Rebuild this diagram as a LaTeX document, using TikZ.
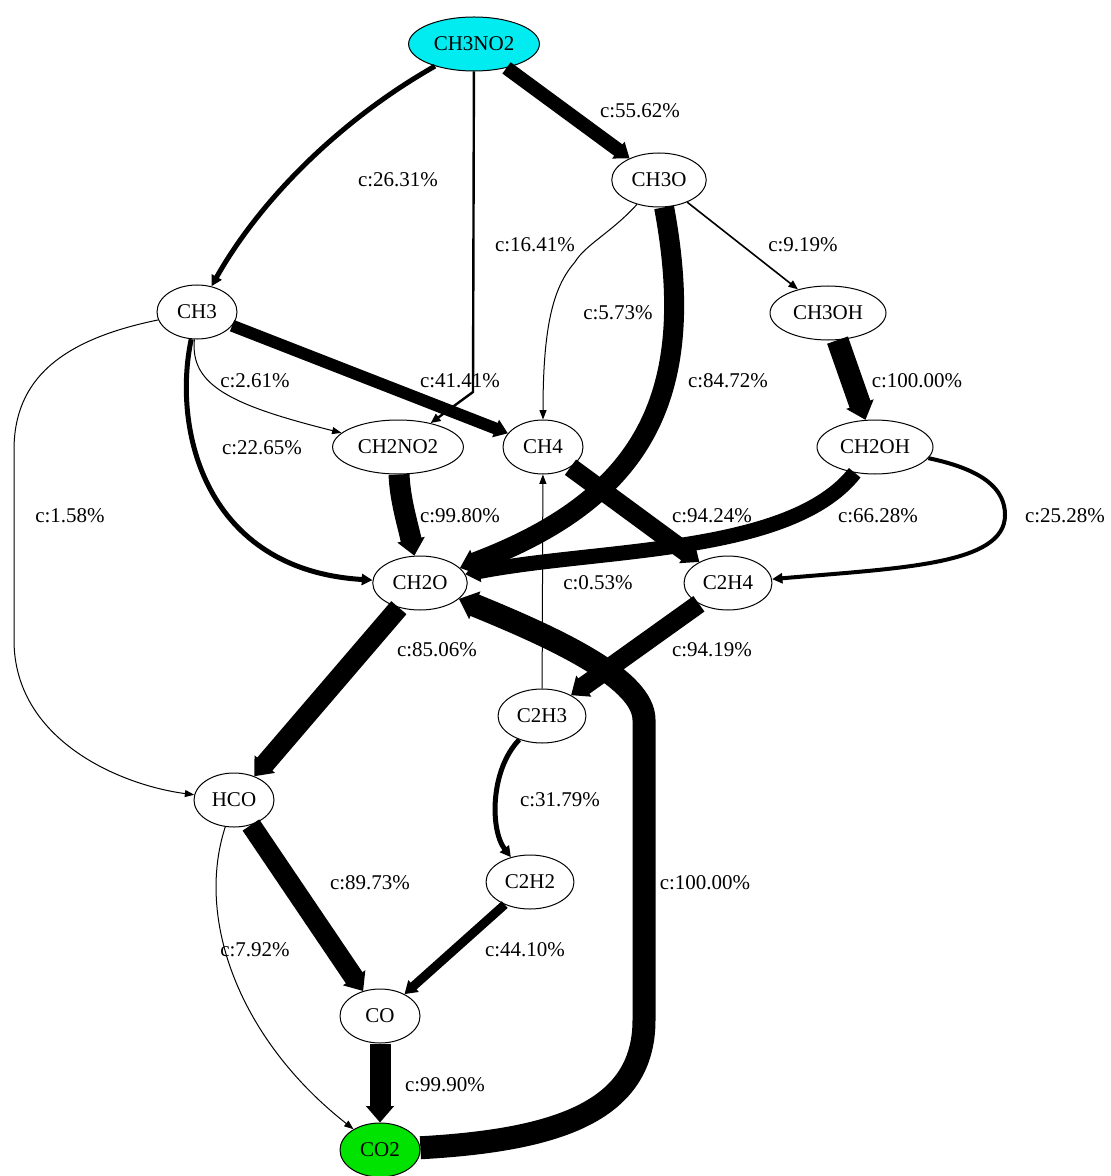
\documentclass[tikz,border=0pt]{standalone}
\usepackage{fontspec}
\setmainfont{Liberation Serif}
\usetikzlibrary{arrows.meta, shapes.geometric}

\definecolor{srccyan}{RGB}{0,236,240}
\definecolor{sinkgreen}{RGB}{0,226,0}

\begin{document}
\begin{tikzpicture}[x=0.5pt, y=-0.5pt,
            font=\fontsize{10.5}{12}\selectfont,
            species/.style={draw, ellipse, line width=0.5pt, fill=white,
                inner xsep=3pt, inner ysep=2pt, minimum width=40pt, minimum height=27pt},
            flow/.style={line width=#1, -{Triangle[length=4.5pt 0.35, width=3pt 1]}},
            lbl/.style={inner sep=0pt}]

            \useasboundingbox (0,0) rectangle (1110,1176);

            % Species
            \node[species, fill=srccyan] (CH3NO2) at (474,44) {CH3NO2};
            \node[species] (CH3O) at (659,180) {CH3O};
            \node[species] (CH3) at (197,312) {CH3};
            \node[species] (CH3OH) at (828,313) {CH3OH};
            \node[species] (CH2NO2) at (398,447) {CH2NO2};
            \node[species] (CH4) at (543,447) {CH4};
            \node[species] (CH2OH) at (875,447) {CH2OH};
            \node[species] (CH2O) at (420,583) {CH2O};
            \node[species] (C2H4) at (728,583) {C2H4};
            \node[species] (C2H3) at (542,716) {C2H3};
            \node[species] (HCO) at (234,800) {HCO};
            \node[species] (C2H2) at (530,882) {C2H2};
            \node[species] (CO) at (380,1016) {CO};
            \node[species, fill=sinkgreen] (CO2) at (380,1150) {CO2};

            % Reactions out of CH3NO2
            \draw[flow=2.5pt] (CH3NO2) .. controls (340,120) and (260,200) .. (CH3)
                node[lbl] at (398,180) {c:26.31\%};
            \draw[flow=1.2pt] (CH3NO2) -- (473,392) -- (CH2NO2)
                node[lbl] at (535,245) {c:16.41\%};
            \draw[flow=7pt] (CH3NO2) -- (CH3O)
                node[lbl] at (640,111) {c:55.62\%};

            % Reactions out of CH3O
            \draw[flow=0.5pt] (CH3O) .. controls (612,232) and (585,245) .. (575,262)
                .. controls (555,285) and (543,320) .. (CH4)
                node[lbl] at (618,313) {c:5.73\%};
            \draw[flow=10pt] (CH3O) .. controls (700,400) and (640,500) .. (CH2O)
                node[lbl] at (728,381) {c:84.72\%};
            \draw[flow=0.8pt] (CH3O) -- (CH3OH)
                node[lbl] at (803,245) {c:9.19\%};
            \draw[flow=11pt] (CH3OH) -- (CH2OH)
                node[lbl] at (917,381) {c:100.00\%};

            % Reactions out of CH3
            \draw[flow=6pt] (CH3) -- (CH4)
                node[lbl] at (460,381) {c:41.41\%};
            \draw[flow=0.5pt] (CH3) .. controls (190,385) and (230,405) .. (CH2NO2)
                node[lbl] at (255,381) {c:2.61\%};
            \draw[flow=2.5pt] (CH3) .. controls (172,430) and (205,570) .. (CH2O)
                node[lbl] at (262,448) {c:22.65\%};
            \draw[flow=0.5pt] (CH3) .. controls (60,340) and (14,380) .. (14,450)
                -- (14,640) .. controls (14,740) and (120,785) .. (HCO)
                node[lbl] at (70,516) {c:1.58\%};

            % Into CH2O and C2H4
            \draw[flow=10.5pt] (CH2NO2) .. controls (400,500) and (408,525) .. (CH2O)
                node[lbl] at (460,516) {c:99.80\%};
            \draw[flow=9.5pt] (CH4) -- (C2H4)
                node[lbl] at (712,516) {c:94.24\%};
            \draw[flow=7.5pt] (CH2OH) .. controls (790,555) and (600,548) .. (CH2O)
                node[lbl] at (878,516) {c:66.28\%};
            \draw[flow=2pt] (CH2OH) .. controls (985,470) and (1005,490) .. (1005,515)
                .. controls (1005,565) and (900,568) .. (C2H4)
                node[lbl] at (1065,516) {c:25.28\%};

            % C2 chain
            \draw[flow=9.5pt] (C2H4) -- (C2H3)
                node[lbl] at (712,650) {c:94.19\%};
            \draw[flow=0.5pt] (C2H3) -- (CH4)
                node[lbl] at (598,583) {c:0.53\%};
            \draw[flow=2.5pt] (C2H3) .. controls (490,770) and (490,830) .. (C2H2)
                node[lbl] at (560,800) {c:31.79\%};
            \draw[flow=4.5pt] (C2H2) -- (CO)
                node[lbl] at (525,950) {c:44.10\%};

            % Oxidation to CO2
            \draw[flow=10pt] (CH2O) -- (HCO)
                node[lbl] at (437,650) {c:85.06\%};
            \draw[flow=10pt] (HCO) -- (CO)
                node[lbl] at (370,883) {c:89.73\%};
            \draw[flow=0.5pt] (HCO) .. controls (195,920) and (240,1040) .. (CO2)
                node[lbl] at (255,950) {c:7.92\%};
            \draw[flow=10.5pt] (CO) -- (CO2)
                node[lbl] at (445,1085) {c:99.90\%};
            \draw[flow=11.5pt] (CO2) .. controls (560,1140) and (644,1110) .. (644,1020)
                -- (644,720) .. controls (644,680) and (560,640) .. (CH2O)
                node[lbl] at (705,883) {c:100.00\%};
        \end{tikzpicture}
\end{document}
